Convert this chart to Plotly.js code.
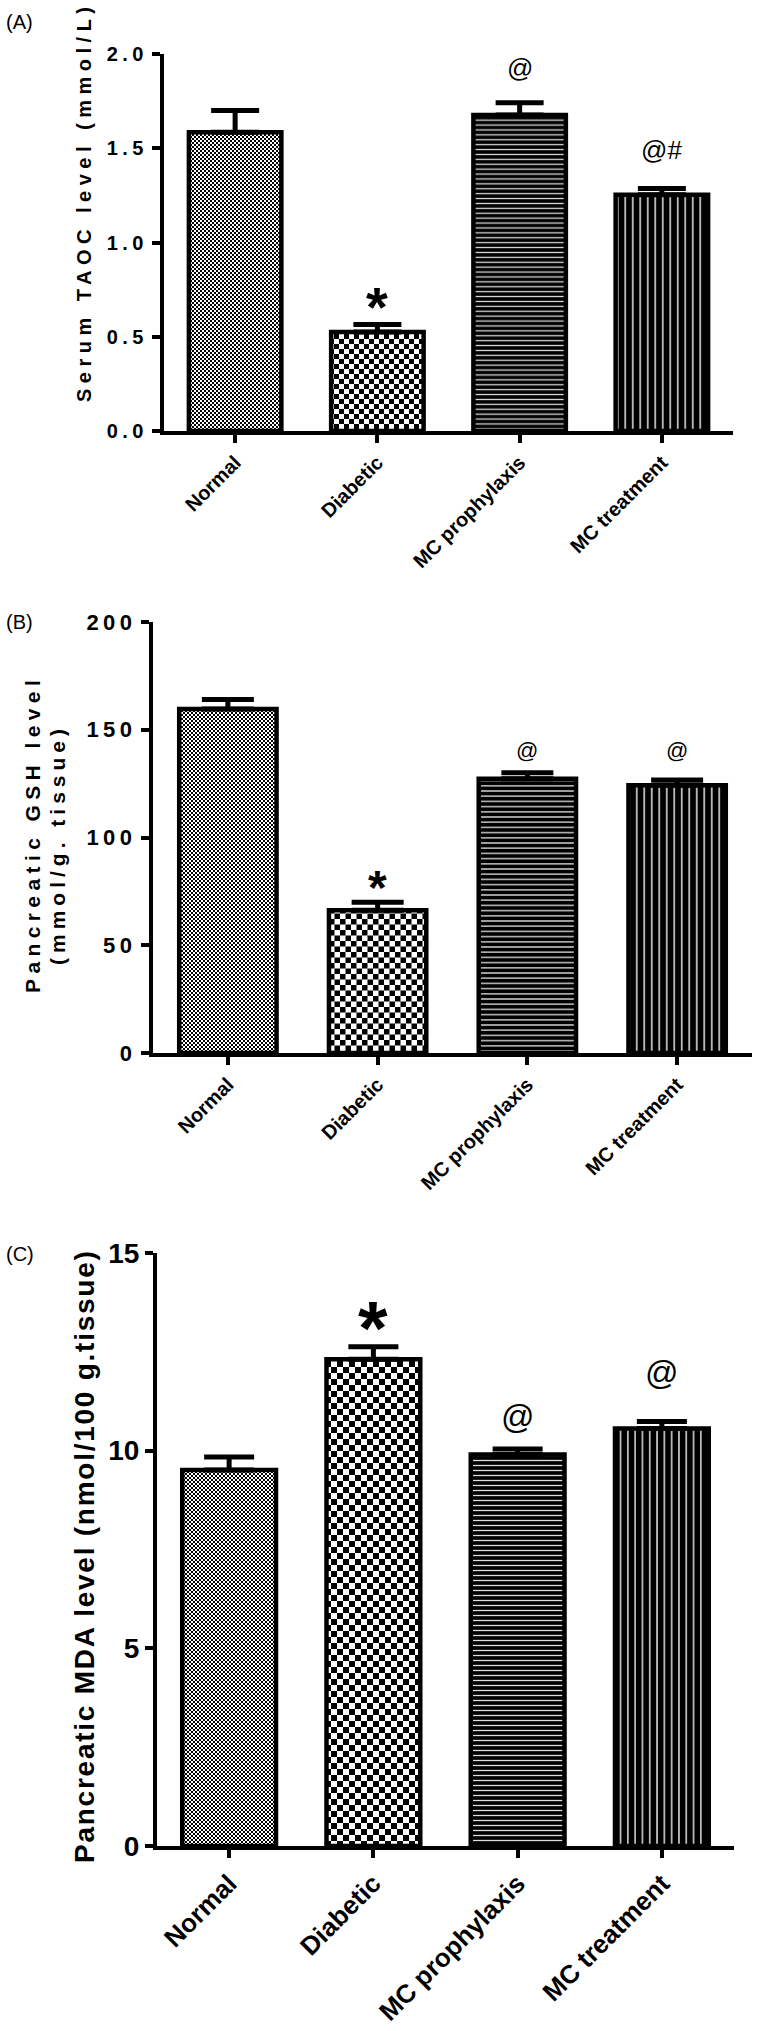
<!DOCTYPE html>
<html><head><meta charset="utf-8">
<script src="https://cdn.plot.ly/plotly-3.0.1.min.js"></script>
<style>html,body{margin:0;padding:0;background:#fff}</style>
</head><body><div id="chart" style="width:760px;height:2031px"></div>
<script>
// ---------- data ----------
const categories = ['Normal', 'Diabetic', 'MC prophylaxis', 'MC treatment'];

const taocMean = [1.585, 0.525, 1.676, 1.253];
const taocSem  = [0.115, 0.040, 0.066, 0.033];
const taocSig  = ['', '*', '@', '@#'];

const gshMean = [159.6, 66.2, 127.3, 124.3];
const gshSem  = [4.4, 3.7, 2.8, 2.4];
const gshSig  = ['', '*', '@', '@'];

const mdaMean = [9.51, 12.31, 9.90, 10.56];
const mdaSem  = [0.33, 0.32, 0.14, 0.18];
const mdaSig  = ['', '*', '@', '@'];

const noLowerErr = [0, 0, 0, 0];

const taocTickVals = [0, 0.5, 1, 1.5, 2];
const taocTickText = ['0.0', '0.5', '1.0', '1.5', '2.0'];
const gshTickVals = [0, 50, 100, 150, 200];
const gshTickText = ['0', '50', '100', '150', '200'];
const mdaTickVals = [0, 5, 10, 15];
const mdaTickText = ['0', '5', '10', '15'];

const panelLabels = ['(A)', '(B)', '(C)'];
const titleA = 'Serum TAOC level (mmol/L)';
const titleB1 = 'Pancreatic GSH level';
const titleB2 = '(mmol/g. tissue)';
const titleC = 'Pancreatic MDA level (nmol/100 g.tissue)';

// ---------- styling / layout ----------
const W = 760, H = 2031;
const FONT = 'Liberation Sans, Arial, Helvetica, sans-serif';
const px = v => v / W;
const py = v => 1 - v / H;
const spaced = (t, s) => '<span style="letter-spacing:' + s + 'px">' + t + '</span>';

function barTrace(mean, sem, xa, ya, errW, hSize, vSize) {
  return {
    type: 'bar', x: categories, y: mean, xaxis: xa, yaxis: ya,
    marker: {
      color: '#000',
      line: {color: '#000', width: 4.5},
      pattern: {
        shape: ['+', '+', '-', '|'],
        fgcolor: ['#000', '#000', '#dcdcdc', '#e6e6e6'],
        bgcolor: ['#fff', '#fff', '#000', '#000'],
        size: [4, 10, hSize, vSize],
        solidity: [0.5, 0.5, 0.26, 0.2],
        fillmode: 'replace'
      }
    },
    error_y: {type: 'data', symmetric: false, array: sem, arrayminus: noLowerErr,
              color: '#000', thickness: 5, width: errW},
    hoverinfo: 'skip', showlegend: false
  };
}

const data = [
  barTrace(taocMean, taocSem, 'x', 'y', 24, 4.9, 7.5),
  barTrace(gshMean, gshSem, 'x2', 'y2', 26, 5.2, 7.5),
  barTrace(mdaMean, mdaSem, 'x3', 'y3', 25, 5.0, 7.3)
];

function xAxis(dom, anchor, fsize) {
  return {domain: [px(dom[0]), px(dom[1])], anchor: anchor, type: 'category',
    range: [-0.5, 3.5], showline: true, linewidth: 4, linecolor: '#000',
    ticks: 'outside', ticklen: 8, tickwidth: 4, tickcolor: '#000', tickangle: -45,
    tickfont: {family: FONT, size: fsize, weight: 'bold', color: '#000'},
    showgrid: false, zeroline: false, fixedrange: true};
}
function yAxis(dom, anchor, range, vals, texts, fsize, ls) {
  return {domain: [py(dom[1]), py(dom[0])], anchor: anchor, range: range,
    tickmode: 'array', tickvals: vals, ticktext: texts.map(t => ls ? spaced(t, ls) : t),
    showline: true, linewidth: 4, linecolor: '#000',
    ticks: 'outside', ticklen: 8, tickwidth: 4, tickcolor: '#000',
    tickfont: {family: FONT, size: fsize, weight: 'bold', color: '#000'},
    showgrid: false, zeroline: false, fixedrange: true};
}

function sigAnns(sig, mean, sem, xa, ya, st) {
  const out = [];
  sig.forEach((s, i) => {
    if (!s) return;
    const star = s === '*';
    out.push({x: categories[i], y: mean[i] + sem[i], xref: xa, yref: ya, text: s,
      showarrow: false, xanchor: 'center', yanchor: 'bottom',
      yshift: star ? st.starShift : st.atShift[i],
      font: {family: FONT, size: star ? st.starSize : st.atSize, weight: star ? 'bold' : 'normal', color: '#000'}});
  });
  return out;
}

const rot = (text, x, y, size) => ({text: text, x: px(x), y: py(y), xref: 'paper', yref: 'paper',
  textangle: -90, xanchor: 'center', yanchor: 'middle', showarrow: false,
  font: {family: FONT, size: size, weight: 'bold', color: '#000'}});
const lab = (text, y) => ({text: text, x: px(4), y: py(y), xref: 'paper', yref: 'paper',
  xanchor: 'left', yanchor: 'middle', showarrow: false, font: {family: FONT, size: 20, color: '#000'}});

const annotations = [
  lab(panelLabels[0], 22),
  lab(panelLabels[1], 622),
  lab(panelLabels[2], 1254),
  rot(spaced(titleA, 5.5), 84, 202, 20),
  rot(spaced(titleB1, 5.4), 32, 834, 21),
  rot(spaced(titleB2, 5), 58, 845, 21),
  rot(spaced(titleC, 1.75), 84, 1556, 28)
].concat(
  sigAnns(taocSig, taocMean, taocSem, 'x', 'y', {starSize: 56, starShift: -16, atSize: 26, atShift: [0, 0, 18, 22]}),
  sigAnns(gshSig, gshMean, gshSem, 'x2', 'y2', {starSize: 48, starShift: -14, atSize: 22, atShift: [0, 0, 8, 15]}),
  sigAnns(mdaSig, mdaMean, mdaSem, 'x3', 'y3', {starSize: 76, starShift: -25, atSize: 33, atShift: [0, 0, 12, 28]})
);

const layout = {
  width: W, height: H, margin: {l: 0, r: 0, t: 0, b: 0},
  paper_bgcolor: '#fff', plot_bgcolor: 'rgba(0,0,0,0)',
  showlegend: false, bargap: 0.35,
  font: {family: FONT, color: '#000'},
  xaxis:  xAxis([164, 733], 'y', 20),
  yaxis:  yAxis([54, 431], 'x', [0, 2], taocTickVals, taocTickText, 20, 4.5),
  xaxis2: xAxis([153, 752], 'y2', 20),
  yaxis2: yAxis([622, 1053], 'x2', [0, 200], gshTickVals, gshTickText, 22, 4.5),
  xaxis3: xAxis([157, 734], 'y3', 26),
  yaxis3: yAxis([1253, 1846], 'x3', [0, 15], mdaTickVals, mdaTickText, 28, 0),
  annotations: annotations
};

const gd = document.getElementById('chart');
Plotly.newPlot(gd, data, layout, {staticPlot: true, displayModeBar: false}).then(applyCheckers);

// checkerboard fills for the first two bars of each panel
function applyCheckers() {
  const NS = 'http://www.w3.org/2000/svg';
  const svg = gd.querySelector('svg.main-svg');
  let defs = svg.querySelector('defs');
  if (!defs) { defs = document.createElementNS(NS, 'defs'); svg.insertBefore(defs, svg.firstChild); }
  function rect(x, y, w, h, c) {
    const r = document.createElementNS(NS, 'rect');
    r.setAttribute('x', x); r.setAttribute('y', y); r.setAttribute('width', w); r.setAttribute('height', h);
    r.setAttribute('fill', c); return r;
  }
  function mk(id, cell) {
    const p = document.createElementNS(NS, 'pattern');
    p.setAttribute('id', id); p.setAttribute('patternUnits', 'userSpaceOnUse');
    p.setAttribute('width', 2 * cell); p.setAttribute('height', 2 * cell);
    p.appendChild(rect(0, 0, 2 * cell, 2 * cell, '#fff'));
    p.appendChild(rect(0, 0, cell, cell, '#000'));
    p.appendChild(rect(cell, cell, cell, cell, '#000'));
    defs.appendChild(p);
  }
  mk('chkFine', 2); mk('chkA', 5); mk('chkB', 5.5); mk('chkC', 6);
  [['xy', 'chkA'], ['x2y2', 'chkB'], ['x3y3', 'chkC']].forEach(([sp, chk]) => {
    const pts = svg.querySelectorAll('.subplot.' + sp + ' .trace.bars .point path');
    if (pts[0]) pts[0].style.fill = 'url(#chkFine)';
    if (pts[1]) pts[1].style.fill = 'url(#' + chk + ')';
  });
}
</script></body></html>
